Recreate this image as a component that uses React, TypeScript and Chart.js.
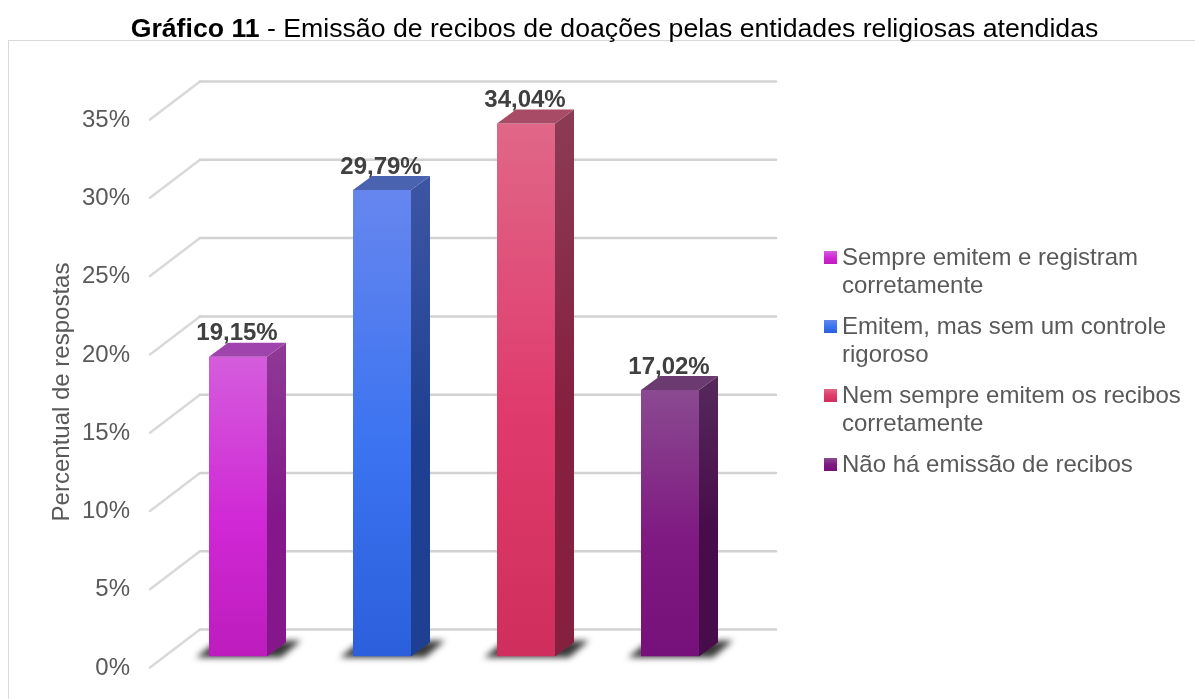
import React, { useEffect, useRef } from "react";
import { Chart, registerables } from "chart.js";

Chart.register(...registerables);

const categories = [
  "Sempre emitem e registram corretamente",
  "Emitem, mas sem um controle rigoroso",
  "Nem sempre emitem os recibos corretamente",
  "Não há emissão de recibos",
];
const legendLines = [
  ["Sempre emitem e registram", "corretamente"],
  ["Emitem, mas sem um controle", "rigoroso"],
  ["Nem sempre emitem os recibos", "corretamente"],
  ["Não há emissão de recibos"],
];
const percentages = [19.15, 29.79, 34.04, 17.02];
const dataLabels = ["19,15%", "29,79%", "34,04%", "17,02%"];
const axisTitle = "Percentual de respostas";

const frontStops = [
  ["#d45ddc", "#d028d5", "#bd1cbd"],
  ["#6686ee", "#3b73f0", "#2c5fdc"],
  ["#e06788", "#df3a6c", "#cf2f5c"],
  ["#8a4a90", "#7f1a82", "#76107a"],
];
const sideStops = [
  ["#8f3a96", "#84188a"],
  ["#3d56a4", "#1f3f92"],
  ["#8c3c55", "#85203f"],
  ["#55295c", "#470c4a"],
];
const topColors = ["#a044ad", "#4a63b0", "#a84b66", "#6b3a70"];

const FONT = '"Liberation Sans", Arial, sans-serif';
const DEPTH_X = 19;
const DEPTH_Y = 14;

function poly(ctx: CanvasRenderingContext2D, pts: number[][]) {
  ctx.beginPath();
  pts.forEach((p, i) => (i ? ctx.lineTo(p[0], p[1]) : ctx.moveTo(p[0], p[1])));
  ctx.closePath();
}

const wall3d = {
  id: "wall3d",
  afterLayout(chart: any) {
    const legend = chart.legend;
    const dx = 824 - 13 - legend.left;
    const dy = 246 - 13 - legend.top;
    legend.left += dx;
    legend.right += dx;
    legend.top += dy;
    legend.bottom += dy;
    legend.adjustHitBoxes();
  },
  beforeDatasetsDraw(chart: any) {
    const { ctx, chartArea, scales } = chart;
    const y = scales.y;
    ctx.save();
    y.ticks.forEach((t: any) => {
      const p = y.getPixelForValue(t.value);
      ctx.lineCap = "round";
      ctx.lineWidth = 2.5;
      ctx.strokeStyle = "#d9d9d9";
      ctx.beginPath();
      ctx.moveTo(chartArea.left - 16, p + 11);
      ctx.lineTo(chartArea.left + 34, p - 27);
      ctx.stroke();
      ctx.strokeStyle = "#d2d2d2";
      ctx.beginPath();
      ctx.moveTo(chartArea.left + 34, p - 27);
      ctx.lineTo(chartArea.right + 34, p - 27);
      ctx.stroke();
    });
    chart.getDatasetMeta(0).data.forEach((bar: any) => {
      const x0 = bar.x - bar.width / 2;
      const x1 = bar.x + bar.width / 2;
      ctx.save();
      ctx.filter = "blur(3px)";
      ctx.fillStyle = "rgba(30,30,30,0.88)";
      poly(ctx, [
        [x0 - 13, bar.base + 1],
        [x0 + 6, bar.base - DEPTH_Y],
        [x1 + 34, bar.base - DEPTH_Y - 2],
        [x1 + 14, bar.base + 1],
      ]);
      ctx.fill();
      ctx.restore();
    });
    ctx.restore();
  },
  afterDatasetsDraw(chart: any) {
    const { ctx } = chart;
    ctx.save();
    chart.getDatasetMeta(0).data.forEach((bar: any, i: number) => {
      const x0 = bar.x - bar.width / 2;
      const x1 = bar.x + bar.width / 2;
      const grad = ctx.createLinearGradient(0, bar.y - DEPTH_Y, 0, bar.base);
      grad.addColorStop(0, sideStops[i][0]);
      grad.addColorStop(0.55, sideStops[i][1]);
      grad.addColorStop(1, sideStops[i][1]);
      ctx.fillStyle = grad;
      poly(ctx, [
        [x1, bar.y],
        [x1 + DEPTH_X, bar.y - DEPTH_Y],
        [x1 + DEPTH_X, bar.base - DEPTH_Y],
        [x1, bar.base],
      ]);
      ctx.fill();
      ctx.fillStyle = topColors[i];
      poly(ctx, [
        [x0, bar.y],
        [x0 + DEPTH_X, bar.y - DEPTH_Y],
        [x1 + DEPTH_X, bar.y - DEPTH_Y],
        [x1, bar.y],
      ]);
      ctx.fill();
      ctx.fillStyle = "#404040";
      ctx.font = "bold 24px " + FONT;
      ctx.textAlign = "center";
      ctx.textBaseline = "middle";
      ctx.fillText(dataLabels[i], bar.x - 1, bar.y - 23);
    });
    ctx.restore();
  },
  afterDraw(chart: any) {
    const { ctx } = chart;
    ctx.save();
    chart.legend.legendHitBoxes.forEach((hit: any, i: number) => {
      const top = hit.top + 5;
      const grad = ctx.createLinearGradient(0, top, 0, top + 13);
      grad.addColorStop(0, frontStops[i][0]);
      grad.addColorStop(0.5, frontStops[i][1]);
      grad.addColorStop(1, frontStops[i][2]);
      ctx.fillStyle = grad;
      ctx.fillRect(824, top, 13, 13);
    });
    ctx.translate(62, 392);
    ctx.rotate(-Math.PI / 2);
    ctx.fillStyle = "#595959";
    ctx.font = "24px " + FONT;
    ctx.textAlign = "center";
    ctx.textBaseline = "middle";
    ctx.fillText(axisTitle, 0, 0);
    ctx.restore();
  },
};

export default function App() {
  const ref = useRef<HTMLCanvasElement | null>(null);

  useEffect(() => {
    const chart = new Chart(ref.current as HTMLCanvasElement, {
      type: "bar",
      plugins: [wall3d],
      data: {
        labels: categories,
        datasets: [
          {
            data: percentages,
            backgroundColor: (c: any) => {
              const i = c.dataIndex;
              const chartRef = c.chart;
              if (!chartRef.chartArea || i === undefined) return frontStops[i ?? 0][1];
              const s = chartRef.scales.y;
              const g = chartRef.ctx.createLinearGradient(0, s.getPixelForValue(percentages[i]), 0, s.getPixelForValue(0));
              g.addColorStop(0, frontStops[i][0]);
              g.addColorStop(0.55, frontStops[i][1]);
              g.addColorStop(1, frontStops[i][2]);
              return g;
            },
            categoryPercentage: 1,
            barPercentage: 58 / 144,
          },
        ],
      },
      options: {
        responsive: false,
        animation: false,
        layout: { autoPadding: false, padding: { left: 0, right: 453, top: 108.5, bottom: 38 } },
        scales: {
          x: { display: false },
          y: {
            min: 0,
            max: 35,
            afterFit: (s: any) => {
              s.width = 166;
            },
            border: { display: false },
            grid: { display: false },
            ticks: {
              stepSize: 5,
              padding: 28,
              labelOffset: 11.5,
              color: "#595959",
              font: { family: FONT, size: 24 },
              callback: (v: any) => v + "%",
            },
          },
        },
        plugins: {
          title: { display: false },
          tooltip: { enabled: false },
          legend: {
            position: "chartArea",
            align: "start",
            labels: {
              boxWidth: 6,
              boxHeight: 13,
              padding: 13,
              color: "#595959",
              font: { family: FONT, size: 24, lineHeight: "28px" },
              generateLabels: () =>
                legendLines.map((text, index) => ({
                  text,
                  index,
                  fillStyle: "rgba(0,0,0,0)",
                  strokeStyle: "rgba(0,0,0,0)",
                  lineWidth: 0,
                  fontColor: "#595959",
                })),
            },
          },
        },
      } as any,
    });
    return () => chart.destroy();
  }, []);

  return (
    <div style={{ position: "fixed", left: 0, top: 0, width: 1195, height: 699, overflow: "hidden", background: "#fff" }}>
      <div
        style={{
          position: "absolute",
          left: 8,
          top: 40,
          width: 1200,
          height: 700,
          border: "1px solid #d9d9d9",
          boxSizing: "border-box",
        }}
      />
      <canvas ref={ref} width={1195} height={699} style={{ position: "absolute", left: 0, top: 0, display: "block" }} />
      <div
        style={{
          position: "absolute",
          left: 0,
          top: 14,
          width: 1229,
          textAlign: "center",
          font: "26.67px " + FONT,
          lineHeight: "28px",
          color: "#000",
          whiteSpace: "nowrap",
        }}
      >
        <b>Gráfico 11</b> - Emissão de recibos de doações pelas entidades religiosas atendidas
      </div>
    </div>
  );
}
